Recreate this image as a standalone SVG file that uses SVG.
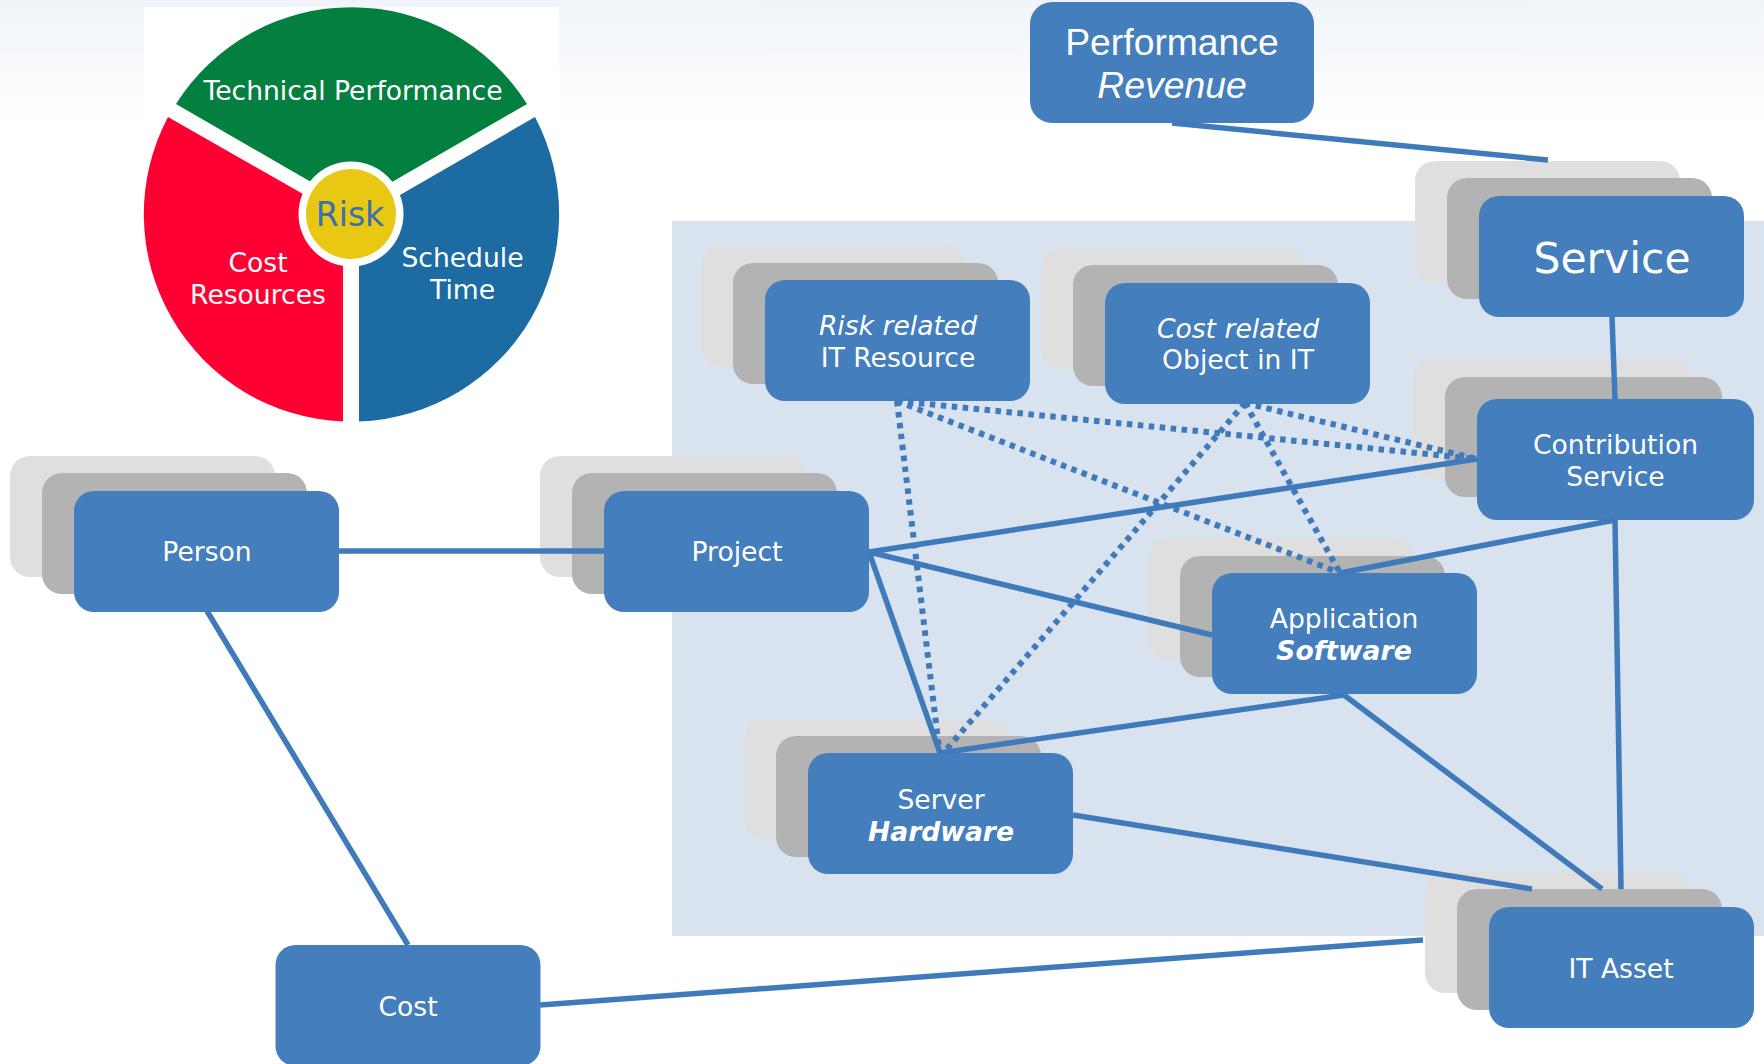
<svg xmlns="http://www.w3.org/2000/svg" width="1764" height="1064" viewBox="0 0 1764 1064">
<style>
.b{fill:#447EBC}.g{fill:#B3B3B3}.l{fill:#DFDFDF}
text{font-family:"DejaVu Sans","Liberation Sans",sans-serif;font-size:26.600px;fill:#fff;text-anchor:middle}
.a{font-family:"Liberation Sans",Arial,sans-serif;font-size:37.300px}
.i{font-style:italic}.bi{font-style:italic;font-weight:bold}
.c line{stroke:#3F7ABA;stroke-width:5.500;fill:none}
.c .d{stroke-width:6;stroke-dasharray:5.500 5.500}
</style>
<defs>
<linearGradient id="bg" x1="0" y1="0" x2="0" y2="1"><stop offset="0" stop-color="#F0F4FA"/><stop offset="1" stop-color="#FFFFFF"/></linearGradient>
<rect id="box" width="265" height="121" rx="20"/>
</defs>
<rect width="1764" height="1064" fill="#fff"/>
<rect width="1764" height="125" fill="url(#bg)"/>
<rect id="panel" x="672" y="221" width="1092" height="715" fill="#D9E3F0"/>
<g id="risk-wheel">
<rect x="144" y="7" width="415" height="415" fill="#fff"/>
<path d="M176 104A207.500 207.500 0 0 1 527 104L392 182 351.500 205 311 182Z" fill="#038040"/>
<path d="M168 117A207.500 207.500 0 0 0 343 421.500V214L303 194Z" fill="#FF0033"/>
<path d="M535 117A207.500 207.500 0 0 1 359 421.500V214L400 195Z" fill="#1C6BA3"/>
<circle cx="351" cy="214" r="52.500" fill="#fff"/>
<circle cx="351" cy="214" r="45" fill="#E8C812"/>
<text x="353" y="100">Technical Performance</text>
<text x="258" y="272">Cost</text>
<text x="258" y="304">Resources</text>
<text x="462.500" y="267">Schedule</text>
<text x="462.500" y="299">Time</text>
<text x="350" y="226" style="font-size:33px;fill:#3A6FB0">Risk</text>
</g>
<g id="performance"><rect class="b" x="1030" y="2" width="284" height="121" rx="22"/>
<text class="a" x="1172" y="55">Performance</text><text class="a i" x="1172" y="98">Revenue</text></g>
<g id="service"><use href="#box" class="l" x="1415" y="161"/><use href="#box" class="g" x="1447" y="178"/><use href="#box" class="b" x="1479" y="196"/>
<text x="1612" y="273" style="font-size:42.500px">Service</text></g>
<g id="risk-related"><use href="#box" class="l" x="701" y="246"/><use href="#box" class="g" x="733" y="263"/><use href="#box" class="b" x="765" y="280"/>
<text class="i" x="898" y="335">Risk related</text><text x="898" y="367">IT Resource</text></g>
<g id="cost-related"><use href="#box" class="l" x="1041" y="248"/><use href="#box" class="g" x="1073" y="265"/><use href="#box" class="b" x="1105" y="283"/>
<text class="i" x="1238" y="338">Cost related</text><text x="1238" y="369">Object in IT</text></g>
<g id="contribution"><rect class="l" x="1413" y="359" width="277" height="120" rx="20"/><rect class="g" x="1445" y="377" width="277" height="120" rx="20"/><rect class="b" x="1477" y="399" width="277" height="121" rx="20"/>
<text x="1615.500" y="454">Contribution</text><text x="1615.500" y="486">Service</text></g>
<g id="person"><use href="#box" class="l" x="10" y="456"/><use href="#box" class="g" x="42" y="473"/><use href="#box" class="b" x="74" y="491"/>
<text x="207" y="561">Person</text></g>
<g id="project"><use href="#box" class="l" x="540" y="456"/><use href="#box" class="g" x="572" y="473"/><use href="#box" class="b" x="604" y="491"/>
<text x="737" y="561">Project</text></g>
<g id="application"><use href="#box" class="l" x="1148" y="538"/><use href="#box" class="g" x="1180" y="556"/><use href="#box" class="b" x="1212" y="573"/>
<text x="1344" y="628">Application</text><text class="bi" x="1344" y="660">Software</text></g>
<g id="server"><use href="#box" class="l" x="744" y="719"/><use href="#box" class="g" x="776" y="736"/><use href="#box" class="b" x="808" y="753"/>
<text x="941" y="809">Server</text><text class="bi" x="941" y="841">Hardware</text></g>
<g id="it-asset"><use href="#box" class="l" x="1425" y="872"/><use href="#box" class="g" x="1457" y="889"/><use href="#box" class="b" x="1489" y="907"/>
<text x="1621" y="978">IT Asset</text></g>
<g id="cost"><use href="#box" class="b" x="275.500" y="945"/>
<text x="408" y="1016">Cost</text></g>
<g id="connectors" class="c">
<line x1="1172" y1="123" x2="1548" y2="160"/>
<line x1="1612" y1="317" x2="1615" y2="399"/>
<line x1="339" y1="551" x2="604" y2="551"/>
<line x1="207" y1="611" x2="408" y2="945"/>
<line x1="869" y1="552" x2="1477" y2="459"/>
<line x1="869" y1="552" x2="1212" y2="635"/>
<line x1="869" y1="552" x2="940" y2="753"/>
<line x1="1340" y1="573" x2="1615" y2="520"/>
<line x1="1344" y1="695" x2="940" y2="753"/>
<line x1="1344" y1="695" x2="1602" y2="889"/>
<line x1="1615" y1="520" x2="1621" y2="889"/>
<line x1="1073" y1="815" x2="1532" y2="889"/>
<line x1="540" y1="1005" x2="1423" y2="940"/>
<line class="d" x1="897" y1="401" x2="939" y2="748"/>
<line class="d" x1="897" y1="401" x2="1340" y2="573"/>
<line class="d" x1="897" y1="401" x2="1477" y2="459"/>
<line class="d" x1="1245" y1="403" x2="946" y2="750"/>
<line class="d" x1="1245" y1="403" x2="1340" y2="573"/>
<line class="d" x1="1245" y1="403" x2="1477" y2="459"/>
</g>
</svg>
